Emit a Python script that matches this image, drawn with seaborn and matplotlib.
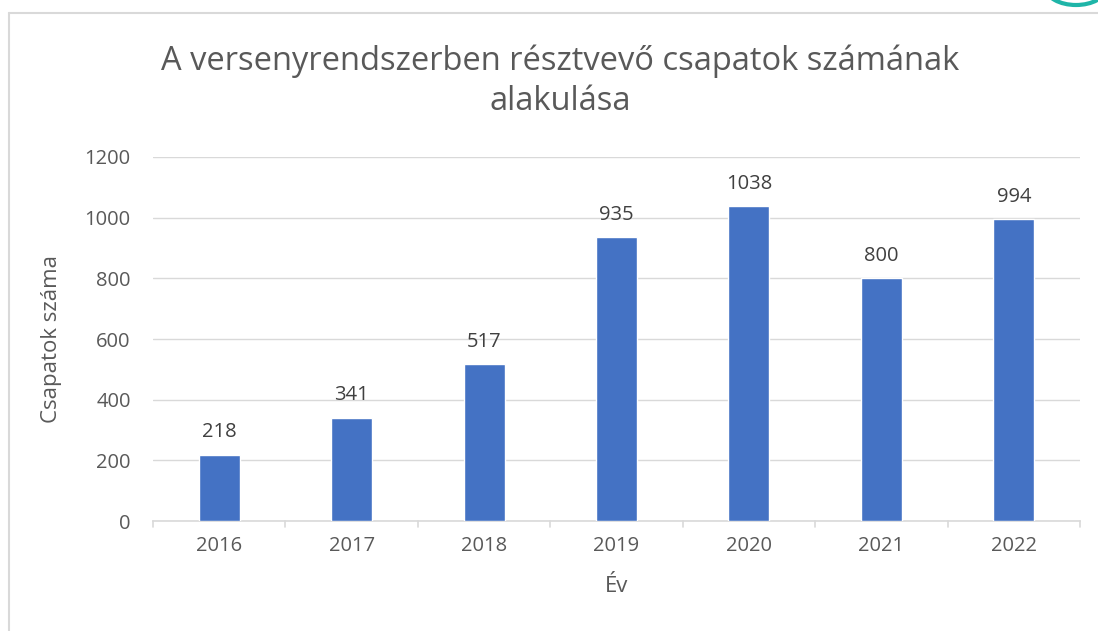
import matplotlib.pyplot as plt
import matplotlib.patches as mpatches
import seaborn as sns
import pandas as pd
import numpy as np

years = ['2016', '2017', '2018', '2019', '2020', '2021', '2022']
teams = [218, 341, 517, 935, 1038, 800, 994]
y_ticks = [0, 200, 400, 600, 800, 1000, 1200]

sns.set_theme(style="white")
plt.rcParams['font.family'] = ['Open Sans', 'DejaVu Sans']

text_color = '#595959'
grid_color = '#d9d9d9'
bar_color = '#4472C4'

df = pd.DataFrame({'Év': years, 'Csapatok': teams})

fig = plt.figure(figsize=(10.98, 6.31), dpi=100)
ax = fig.add_axes([0.1393, 0.1743, 0.8443, 0.5769])

sns.barplot(data=df, x='Év', y='Csapatok', color=bar_color, width=0.31,
            saturation=1, ax=ax, zorder=3)

for i, v in enumerate(teams):
    ax.annotate(str(v), (i, v), xytext=(0, 9), textcoords='offset points',
                ha='center', va='bottom', fontsize=14.5, color='#404040')

ax.set_ylim(0, 1200)
ax.set_xlim(-0.5, len(years) - 0.5)
ax.set_yticks(y_ticks)
ax.yaxis.grid(True, color=grid_color, linewidth=1, zorder=0)
ax.tick_params(axis='y', length=0, labelsize=14.5, labelcolor=text_color, pad=16)
ax.tick_params(axis='x', length=0, labelsize=14.5, labelcolor=text_color, pad=11)

# category boundary tick marks below the baseline
for b in np.arange(-0.5, len(years), 1.0):
    ax.plot([b, b], [0, -0.016], transform=ax.get_xaxis_transform(),
            color=grid_color, linewidth=1.2, clip_on=False)

for s in ['top', 'right', 'left']:
    ax.spines[s].set_visible(False)
ax.spines['bottom'].set_color(grid_color)
ax.spines['bottom'].set_linewidth(1.2)

ax.set_xlabel('Év', fontsize=16, color=text_color, labelpad=14)
ax.set_ylabel('Csapatok száma', fontsize=16, color=text_color, labelpad=16)

fig.text(0.51, 0.871, 'A versenyrendszerben résztvevő csapatok számának\nalakulása',
         ha='center', va='center', fontsize=23.5, color=text_color, linespacing=1.3)

# outer chart frame
fig.add_artist(plt.Line2D([0.008, 1.0], [0.979, 0.979], transform=fig.transFigure,
                          color=grid_color, linewidth=1.5))
fig.add_artist(plt.Line2D([0.008, 0.008], [0.0, 0.979], transform=fig.transFigure,
                          color=grid_color, linewidth=1.5))

# small decorative arc at top right
fig.add_artist(mpatches.Arc((1076 / 1098, 1 + 12 / 631), 60 / 1098, 34 / 631,
                            theta1=180, theta2=360, transform=fig.transFigure,
                            color='#1fb5a8', linewidth=3))

fig.savefig('out.png', dpi=100)
